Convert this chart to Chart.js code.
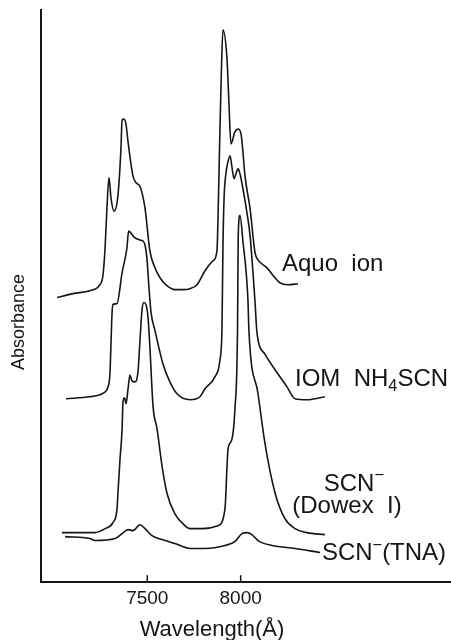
<!DOCTYPE html>
<html lang="en">
<head>
<meta charset="UTF-8">
<title>Absorbance spectra</title>
<script src="https://cdn.jsdelivr.net/npm/chart.js"></script>
<style>
  html, body { margin: 0; padding: 0; background: #fff; }
</style>
</head>
<body>
<canvas id="spectra" width="451" height="640"></canvas>
<script>
// Wavelength in Å, absorbance in arbitrary units (curves are offset vertically)
const aquoWl  = [7017, 7102, 7193, 7247, 7263, 7274, 7284, 7295, 7306, 7322, 7343, 7359, 7365, 7375, 7386, 7397, 7423, 7439, 7461, 7488, 7514, 7541, 7568, 7605, 7648, 7691, 7729, 7766, 7809, 7852, 7873, 7881, 7889, 7897, 7905, 7927, 7937, 7948, 7969, 7986, 8002, 8012, 8023, 8050, 8077, 8093, 8141, 8184, 8210, 8253, 8307];
const aquoAbs = [2.87, 2.91, 2.94, 3.00, 3.10, 3.37, 3.77, 4.08, 3.87, 3.74, 3.90, 4.37, 4.66, 4.67, 4.62, 4.44, 4.10, 4.03, 3.99, 3.77, 3.34, 3.17, 3.07, 2.99, 2.95, 2.95, 2.96, 3.00, 3.14, 3.24, 3.34, 3.87, 4.57, 5.17, 5.57, 5.27, 4.84, 4.42, 4.54, 4.57, 4.52, 4.34, 4.10, 3.77, 3.32, 3.25, 3.17, 3.07, 3.02, 3.00, 3.01];

const thioWl  = [7065, 7193, 7247, 7258, 7290, 7300, 7306, 7311, 7316, 7338, 7365, 7391, 7400, 7413, 7429, 7461, 7477, 7488, 7498, 7509, 7520, 7541, 7584, 7621, 7659, 7729, 7782, 7809, 7862, 7889, 7900, 7905, 7911, 7921, 7932, 7943, 7953, 7964, 7975, 7986, 7996, 8012, 8034, 8050, 8066, 8077, 8087, 8130, 8200, 8248, 8291, 8355, 8451];
const thioAbs = [1.85, 1.87, 1.89, 1.90, 1.97, 2.10, 2.42, 2.70, 2.80, 2.81, 3.12, 3.37, 3.54, 3.52, 3.48, 3.45, 3.44, 3.40, 3.27, 2.97, 2.72, 2.54, 2.20, 2.02, 1.90, 1.84, 1.87, 1.95, 2.07, 2.24, 2.57, 3.37, 3.87, 4.12, 4.24, 4.30, 4.19, 4.07, 4.12, 4.17, 4.12, 3.97, 3.72, 3.50, 3.12, 2.82, 2.52, 2.30, 2.10, 1.97, 1.85, 1.84, 1.87];

const dowexWl  = [7043, 7220, 7274, 7316, 7338, 7343, 7354, 7365, 7370, 7378, 7386, 7397, 7407, 7418, 7434, 7450, 7461, 7472, 7482, 7493, 7504, 7514, 7531, 7552, 7579, 7605, 7648, 7691, 7729, 7798, 7878, 7916, 7927, 7932, 7953, 7969, 7983, 7987, 7996, 8012, 8039, 8044, 8093, 8130, 8184, 8237, 8291, 8355, 8451];
const dowexAbs = [0.50, 0.50, 0.54, 0.60, 0.74, 0.90, 1.24, 1.54, 1.82, 1.86, 1.80, 1.95, 2.09, 2.03, 2.02, 2.12, 2.44, 2.75, 2.82, 2.80, 2.67, 2.37, 1.77, 1.55, 1.17, 0.90, 0.69, 0.59, 0.54, 0.54, 0.57, 0.74, 1.17, 1.34, 1.44, 1.74, 2.52, 3.50, 3.70, 3.44, 2.84, 2.54, 1.90, 1.40, 0.90, 0.64, 0.54, 0.50, 0.48];

const tnaWl  = [7060, 7193, 7220, 7327, 7365, 7397, 7423, 7461, 7488, 7525, 7579, 7648, 7729, 7809, 7916, 7969, 8007, 8034, 8060, 8093, 8168, 8291, 8425];
const tnaAbs = [0.46, 0.44, 0.42, 0.44, 0.49, 0.53, 0.52, 0.58, 0.54, 0.47, 0.43, 0.39, 0.34, 0.34, 0.37, 0.41, 0.49, 0.50, 0.48, 0.42, 0.37, 0.34, 0.30];

const tickWl = [7500, 8000];

const FONT = "'Liberation Sans', Arial, sans-serif";
const INK = '#151515';

function toPoints(wl, abs) {
  return wl.map((w, i) => ({ x: w, y: abs[i] }));
}

// draws a run of text pieces, some of them sub- or superscript
function richText(ctx, parts, x, y, size, align) {
  const widths = parts.map(p => {
    ctx.font = (p.sub || p.sup ? size * 0.68 : size) + 'px ' + FONT;
    return ctx.measureText(p.t).width;
  });
  const total = widths.reduce((a, b) => a + b, 0);
  let cx = align === 'center' ? x - total / 2 : x;
  parts.forEach((p, i) => {
    ctx.font = (p.sub || p.sup ? size * 0.68 : size) + 'px ' + FONT;
    let dy = 0;
    if (p.sub) dy = size * 0.3;
    if (p.sup) dy = -size * 0.35;
    ctx.fillText(p.t, cx, y + dy);
    cx += widths[i];
  });
}

const curveLabels = [
  { wl: 8221, abs: 3.20, align: 'left',   parts: [{ t: 'Aquo  ion' }] },
  { wl: 8291, abs: 2.05, align: 'left',   parts: [{ t: 'IOM  NH' }, { t: '4', sub: true }, { t: 'SCN' }] },
  { wl: 8606, abs: 0.99, align: 'center', parts: [{ t: 'SCN' }, { t: '\u2212', sup: true }] },
  { wl: 8569, abs: 0.76, align: 'center', parts: [{ t: '(Dowex  I)' }] },
  { wl: 8435, abs: 0.29, align: 'left',   parts: [{ t: 'SCN' }, { t: '\u2212', sup: true }, { t: '(TNA)' }] }
];

const decorations = {
  id: 'decorations',
  afterDraw(chart) {
    const { ctx, chartArea, scales: { x, y } } = chart;
    ctx.save();
    ctx.strokeStyle = INK;
    ctx.fillStyle = INK;

    // tick marks point up into the plot
    ctx.lineWidth = 1.5;
    tickWl.forEach(w => {
      const px = x.getPixelForValue(w);
      ctx.beginPath();
      ctx.moveTo(px, chartArea.bottom);
      ctx.lineTo(px, chartArea.bottom - 7);
      ctx.stroke();
    });

    ctx.textBaseline = 'middle';
    ctx.textAlign = 'left';
    curveLabels.forEach(l => {
      richText(ctx, l.parts, x.getPixelForValue(l.wl), y.getPixelForValue(l.abs), 24, l.align);
    });

    // axis titles
    ctx.textAlign = 'center';
    ctx.textBaseline = 'alphabetic';
    ctx.font = '22px ' + FONT;
    ctx.fillText('Wavelength(\u00C5)', 212, 636);

    ctx.translate(19, 322);
    ctx.rotate(-Math.PI / 2);
    ctx.textBaseline = 'middle';
    ctx.font = '18px ' + FONT;
    ctx.fillText('Absorbance', 0, 0);
    ctx.restore();
  }
};

const series = [
  toPoints(aquoWl, aquoAbs),
  toPoints(thioWl, thioAbs),
  toPoints(dowexWl, dowexAbs),
  toPoints(tnaWl, tnaAbs)
];

new Chart(document.getElementById('spectra'), {
  type: 'line',
  data: {
    datasets: series.map(pts => ({
      data: pts,
      borderColor: INK,
      borderWidth: 1.6,
      pointRadius: 0,
      fill: false,
      cubicInterpolationMode: 'monotone'
    }))
  },
  options: {
    responsive: false,
    animation: false,
    layout: { padding: { left: 41, right: 0, top: 10, bottom: 25 } },
    plugins: { legend: { display: false }, tooltip: { enabled: false } },
    scales: {
      x: {
        type: 'linear',
        min: 6931,
        max: 9126,
        afterBuildTicks: s => { s.ticks = tickWl.map(v => ({ value: v })); },
        grid: { display: false, drawTicks: false },
        border: { display: true, color: INK, width: 2 },
        ticks: {
          color: INK,
          font: { family: FONT, size: 19 },
          padding: 5,
          maxRotation: 0,
          autoSkip: false,
          callback: v => String(v)
        }
      },
      y: {
        min: 0,
        max: 5.77,
        grid: { display: false, drawTicks: false },
        border: { display: true, color: INK, width: 2 },
        ticks: { display: false }
      }
    }
  },
  plugins: [decorations]
});
</script>
</body>
</html>
